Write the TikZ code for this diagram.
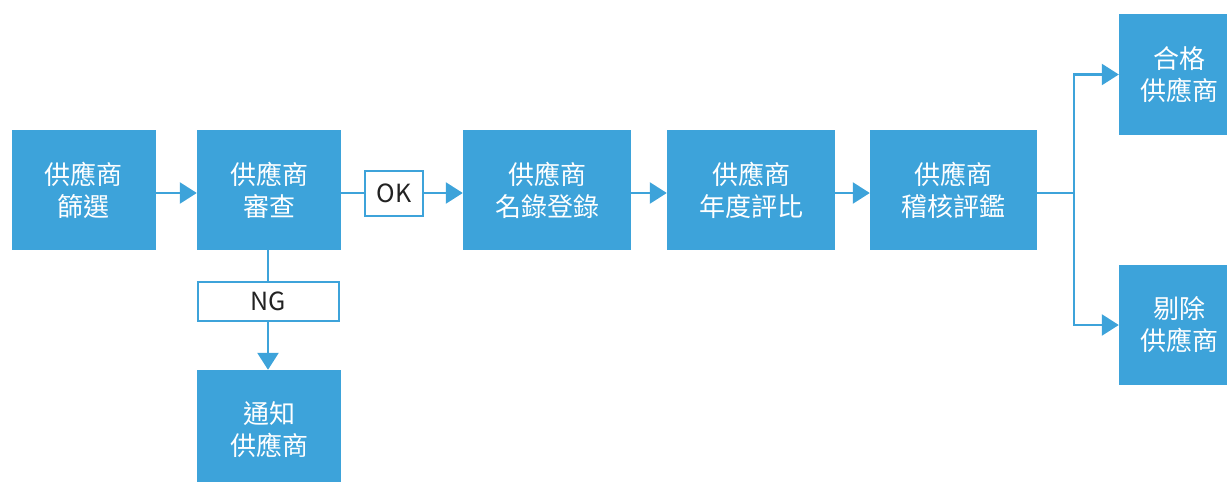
\documentclass[tikz,border=0pt]{standalone}
\usepackage{fontspec}
\setmainfont{Noto Sans CJK TC}
\usetikzlibrary{arrows.meta}
\definecolor{flowblue}{RGB}{61,163,218}
\definecolor{labeltext}{RGB}{34,34,34}
\begin{document}
\begin{tikzpicture}[x=1pt,y=-1pt,
  stepbox/.style={fill=flowblue, draw=none, inner sep=0pt, text=white, align=center,
    font=\fontsize{26}{32}\selectfont},
  tagbox/.style={fill=white, draw=flowblue, line width=2pt, inner sep=0pt, text=labeltext,
    font=\fontsize{25}{28}\selectfont},
  conn/.style={draw=flowblue, line width=2.5pt},
  arr/.style={conn, -{Triangle[length=17pt,width=21pt]}}
]
\useasboundingbox (0,0) rectangle (1227,482);
\node[stepbox, minimum width=144pt, minimum height=120pt] (b1) at (84,190) {供應商\\篩選};
\node[stepbox, minimum width=144pt, minimum height=120pt] (b2) at (269,190) {供應商\\審查};
\node[stepbox, minimum width=168pt, minimum height=120pt] (b3) at (547,190) {供應商\\名錄登錄};
\node[stepbox, minimum width=168pt, minimum height=120pt] (b4) at (751,190) {供應商\\年度評比};
\node[stepbox, minimum width=167pt, minimum height=120pt] (b5) at (953.5,190) {供應商\\稽核評鑑};
\node[stepbox, minimum width=120pt, minimum height=121pt] (ok1) at (1179,74.5) {合格\\供應商};
\node[stepbox, minimum width=120pt, minimum height=120pt] (rej) at (1179,325) {剔除\\供應商};
\node[stepbox, minimum width=144pt, minimum height=120pt] (ntf) at (269,430) {通知\\供應商};
\node[tagbox, minimum width=58pt, minimum height=45pt] (ok) at (394,193) {OK};
\node[tagbox, minimum width=141pt, minimum height=39pt] (ng) at (268,301) {NG};
\coordinate (br) at (1074,193);
\draw[arr] ([yshift=-3pt]b1.east) -- ([yshift=-3pt]b2.west);
\draw[conn] ([yshift=-3pt]b2.east) -- (ok.west);
\draw[arr] (ok.east) -- ([yshift=-3pt]b3.west);
\draw[arr] ([yshift=-3pt]b3.east) -- ([yshift=-3pt]b4.west);
\draw[arr] ([yshift=-3pt]b4.east) -- ([yshift=-3pt]b5.west);
\draw[conn] ([yshift=-3pt]b5.east) -- (br);
\draw[arr] (br) |- (ok1.west);
\draw[arr] (br) |- (rej.west);
\draw[conn] ([xshift=-1pt]b2.south) -- (ng.north);
\draw[arr] (ng.south) -- ([xshift=-1pt]ntf.north);
\end{tikzpicture}
\end{document}
